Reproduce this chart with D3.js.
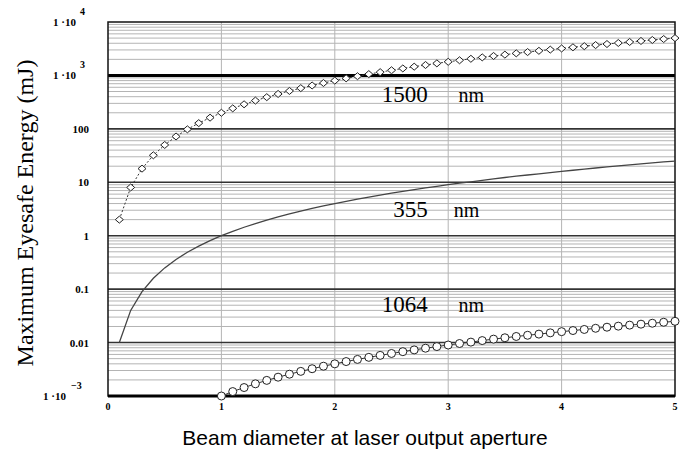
<!DOCTYPE html>
<html lang="en">
    <head>
        <meta charset="utf-8">
        <title>Maximum Eyesafe Energy</title>
        <script src="https://d3js.org/d3.v7.min.js"></script>
        <style>
            body { margin: 0; background: #fff; }
        </style>
    </head>
    <body>
        <div id="dataviz"></div>
        <script>
            // beam diameter (0.1 .. 5.0)
            var diam = [0.1,0.2,0.3,0.4,0.5,0.6,0.7,0.8,0.9,1.0,
                        1.1,1.2,1.3,1.4,1.5,1.6,1.7,1.8,1.9,2.0,
                        2.1,2.2,2.3,2.4,2.5,2.6,2.7,2.8,2.9,3.0,
                        3.1,3.2,3.3,3.4,3.5,3.6,3.7,3.8,3.9,4.0,
                        4.1,4.2,4.3,4.4,4.5,4.6,4.7,4.8,4.9,5.0];
            var e1500 = [2,8,18,32,50,72,98,128,162,200,
                         242,288,338,392,450,512,578,648,722,800,
                         882,968,1058,1152,1250,1352,1458,1568,1682,1800,
                         1922,2048,2178,2312,2450,2592,2738,2888,3042,3200,
                         3362,3528,3698,3872,4050,4232,4418,4608,4802,5000];
            var e355 = [0.01,0.04,0.09,0.16,0.25,0.36,0.49,0.64,0.81,1,
                        1.21,1.44,1.69,1.96,2.25,2.56,2.89,3.24,3.61,4,
                        4.41,4.84,5.29,5.76,6.25,6.76,7.29,7.84,8.41,9,
                        9.61,10.2,10.9,11.6,12.3,13,13.7,14.4,15.2,16,
                        16.8,17.6,18.5,19.4,20.3,21.2,22.1,23,24,25];
            // 1064 nm starts at d = 1.0 (index 9)
            var diam1064 = diam.slice(9);
            var e1064 = [0.001,0.00121,0.00144,0.00169,0.00196,0.00225,0.00256,0.00289,0.00324,0.00361,
                         0.004,0.00441,0.00484,0.00529,0.00576,0.00625,0.00676,0.00729,0.00784,0.00841,
                         0.009,0.00961,0.0102,0.0109,0.0116,0.0123,0.013,0.0137,0.0144,0.0152,
                         0.016,0.0168,0.0176,0.0185,0.0194,0.0203,0.0212,0.0221,0.023,0.024,0.025];
            var xTicks = [0,1,2,3,4,5];
            var yTicks = [1e-3,0.01,0.1,1,10,100,1e3,1e4];
            var yLabels = [["1 \u00b710","\u22123"],["0.01"],["0.1"],["1"],["10"],["100"],["1 \u00b710","3"],["1 \u00b710","4"]];
            // label anchor: number ends at x, "nm" starts at nx
            var seriesLabels = [{n:"1500", x:2.82, nx:3.09, y:316},
                                {n:"355",  x:2.82, nx:3.05, y:2.24},
                                {n:"1064", x:2.82, nx:3.09, y:0.037}];

            var W = 693, H = 453;
            var pLeft = 108, pRight = 675, pTop = 22, pBottom = 396;

            var svg = d3.select("#dataviz").append("svg")
                        .attr("width", W).attr("height", H)
                        .style("font-family", "'Liberation Serif', 'Times New Roman', serif");

            var x = d3.scaleLinear().domain([0, 5]).range([pLeft, pRight]);
            var y = d3.scaleLog().domain([1e-3, 1e4]).range([pBottom, pTop]);

            // minor horizontal grid
            var minor = [];
            for (var k = 0; k < yTicks.length - 1; k++) {
                for (var m = 2; m <= 9; m++) minor.push(yTicks[k] * m);
            }
            svg.append("g").selectAll("line").data(minor).enter().append("line")
                .attr("x1", pLeft).attr("x2", pRight)
                .attr("y1", function(d) { return y(d); }).attr("y2", function(d) { return y(d); })
                .attr("stroke", "#b4b4b4").attr("stroke-width", 1);

            // vertical grid
            svg.append("g").selectAll("line").data(xTicks.slice(1, 5)).enter().append("line")
                .attr("x1", function(d) { return x(d); }).attr("x2", function(d) { return x(d); })
                .attr("y1", pTop).attr("y2", pBottom)
                .attr("stroke", "#b4b4b4").attr("stroke-width", 1);

            // decade lines
            svg.append("g").selectAll("line").data(yTicks.slice(1, 7)).enter().append("line")
                .attr("x1", pLeft).attr("x2", pRight)
                .attr("y1", function(d) { return y(d); }).attr("y2", function(d) { return y(d); })
                .attr("stroke", function(d) { return d == 1e3 ? "#000" : "#333"; })
                .attr("stroke-width", function(d) { return d == 1e3 ? 3 : 1.6; });

            // frame
            svg.append("rect").attr("x", pLeft).attr("y", pTop)
                .attr("width", pRight - pLeft).attr("height", pBottom - pTop)
                .attr("fill", "none").attr("stroke", "#111").attr("stroke-width", 1.5);
            svg.append("line").attr("x1", pLeft).attr("x2", pRight)
                .attr("y1", pBottom).attr("y2", pBottom)
                .attr("stroke", "#000").attr("stroke-width", 3);

            // y tick labels
            var yl = svg.append("g").selectAll("g").data(yTicks).enter().append("g")
                .attr("transform", function(d) { return "translate(0," + y(d) + ")"; });
            yl.append("text")
                .attr("x", function(d, i) { return yLabels[i].length > 1 ? (d < 0.01 ? 66 : 76) : 89; })
                .attr("y", 4)
                .attr("text-anchor", "end")
                .style("font-size", "11px").style("font-weight", "bold")
                .text(function(d, i) { return yLabels[i][0]; });
            yl.filter(function(d, i) { return yLabels[i].length > 1; }).append("text")
                .attr("x", function(d) { return d < 0.01 ? 71 : 80; })
                .attr("y", -7)
                .style("font-size", "10px").style("font-weight", "bold")
                .text(function(d) { return yLabels[yTicks.indexOf(d)][1]; });

            // x tick labels
            svg.append("g").selectAll("text").data(xTicks).enter().append("text")
                .attr("x", function(d) { return x(d); })
                .attr("y", 410)
                .attr("text-anchor", "middle")
                .style("font-size", "10px").style("font-weight", "bold")
                .text(function(d) { return d; });

            var line = d3.line()
                .x(function(d) { return x(d[0]); })
                .y(function(d) { return y(d[1]); });

            var s1500 = diam.map(function(d, i) { return [d, e1500[i]]; });
            var s355 = diam.map(function(d, i) { return [d, e355[i]]; });
            var s1064 = diam1064.map(function(d, i) { return [d, e1064[i]]; });

            svg.append("path").datum(s1500).attr("d", line)
                .attr("fill", "none").attr("stroke", "#333").attr("stroke-width", 1)
                .attr("stroke-dasharray", "2,2");
            svg.append("path").datum(s355).attr("d", line)
                .attr("fill", "none").attr("stroke", "#444").attr("stroke-width", 1.3);
            svg.append("path").datum(s1064).attr("d", line)
                .attr("fill", "none").attr("stroke", "#333").attr("stroke-width", 1);

            // diamonds
            svg.append("g").selectAll("path").data(s1500).enter().append("path")
                .attr("d", "M0,-3.5L4,0L0,3.5L-4,0Z")
                .attr("transform", function(d) { return "translate(" + x(d[0]) + "," + y(d[1]) + ")"; })
                .attr("fill", "#fff").attr("stroke", "#222").attr("stroke-width", 1);

            // circles
            svg.append("g").selectAll("circle").data(s1064).enter().append("circle")
                .attr("cx", function(d) { return x(d[0]); })
                .attr("cy", function(d) { return y(d[1]); })
                .attr("r", 4)
                .attr("fill", "#fff").attr("stroke", "#222").attr("stroke-width", 1);

            // series labels
            var sl = svg.append("g").selectAll("g").data(seriesLabels).enter().append("g");
            sl.append("text").attr("x", function(d) { return x(d.x); })
                .attr("y", function(d) { return y(d.y); })
                .attr("text-anchor", "end")
                .style("font-size", "23px")
                .text(function(d) { return d.n; });
            sl.append("text").attr("x", function(d) { return x(d.nx); })
                .attr("y", function(d) { return y(d.y); })
                .style("font-size", "20px")
                .text("nm");

            // axis titles
            svg.append("text")
                .attr("transform", "translate(33,213) rotate(-90)")
                .attr("text-anchor", "middle")
                .style("font-size", "24px")
                .text("Maximum Eyesafe Energy (mJ)");

            svg.append("text")
                .attr("x", 365).attr("y", 445)
                .attr("text-anchor", "middle")
                .style("font-family", "'Liberation Sans', Arial, sans-serif")
                .style("font-size", "21px")
                .text("Beam diameter at laser output aperture");
        </script>
    </body>
</html>
